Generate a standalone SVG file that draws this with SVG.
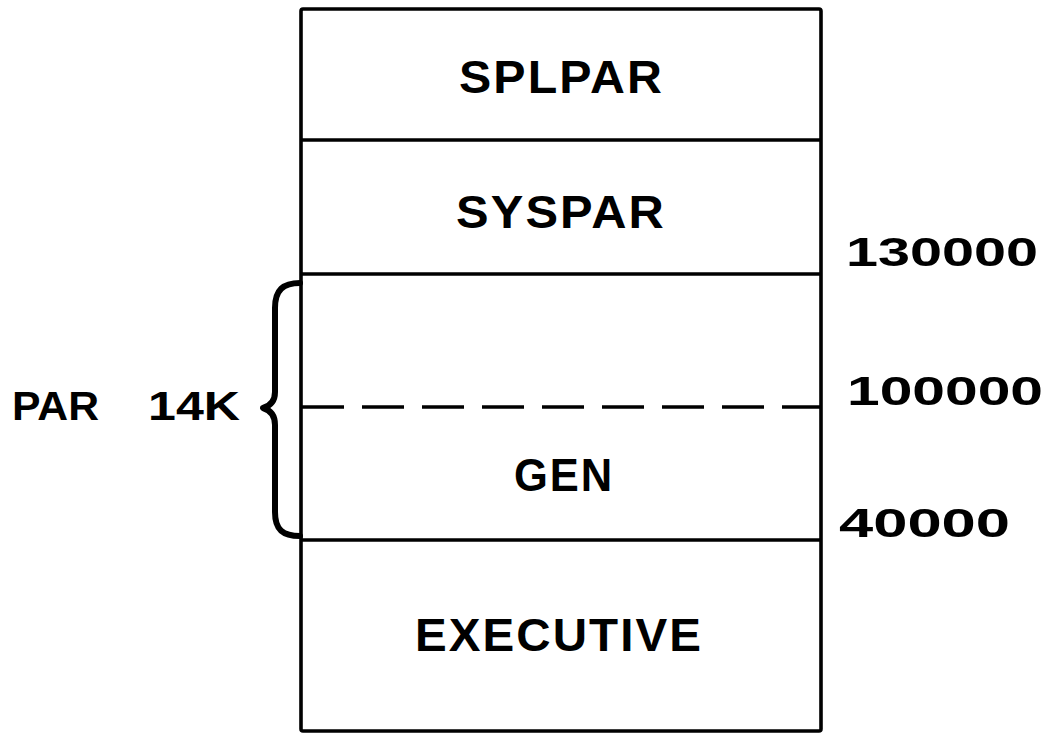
<svg xmlns="http://www.w3.org/2000/svg" width="1052" height="736" viewBox="0 0 1052 736">
  <style>
    .frame { fill: #fff; stroke: #000; stroke-width: 3.6; }
    .rule { stroke: #000; stroke-width: 3.6; fill: none; }
    .lbl { font-family: "Liberation Sans", Arial, sans-serif; font-weight: bold; font-size: 46px; fill: #000; letter-spacing: 2px; }
    .addr { font-family: "Liberation Sans", Arial, sans-serif; font-weight: bold; font-size: 41px; fill: #000; }
    .dash { stroke: #000; stroke-width: 3.4; stroke-dasharray: 42 18; fill: none; }
    .brace { stroke: #000; stroke-width: 6; fill: none; stroke-linecap: round; stroke-linejoin: round; }
  </style>

  <!-- outer frame of the memory map -->
  <rect class="frame" x="301" y="9" width="520" height="722" rx="2"/>

  <!-- memory map blocks, top to bottom -->
  <g id="splpar">
    <text class="lbl" x="459" y="93" textLength="205" lengthAdjust="spacingAndGlyphs">SPLPAR</text>
  </g>
  <g id="syspar">
    <text class="lbl" x="456" y="228" textLength="210" lengthAdjust="spacingAndGlyphs">SYSPAR</text>
  </g>
  <g id="par-upper"/>
  <g id="gen">
    <text class="lbl" x="514" y="491" textLength="100" lengthAdjust="spacingAndGlyphs">GEN</text>
  </g>
  <g id="executive">
    <text class="lbl" x="415" y="651" textLength="288" lengthAdjust="spacingAndGlyphs">EXECUTIVE</text>
  </g>

  <!-- block boundaries and the PAR brace -->
  <g id="connectors">
    <line class="rule" x1="301" y1="140" x2="821" y2="140"/>
    <line class="rule" x1="301" y1="274" x2="821" y2="274"/>
    <line class="dash" x1="302" y1="407" x2="820" y2="407"/>
    <line class="rule" x1="301" y1="540" x2="821" y2="540"/>
    <path class="brace" d="M300,283 C283,283 275,290 275,308 L275,392 C275,401 270,406 263,408 C270,410 275,415 275,425 L275,512 C275,530 283,536 300,536"/>
  </g>

  <!-- address labels -->
  <g id="addresses">
    <text class="addr" x="846" y="266" textLength="192" lengthAdjust="spacingAndGlyphs">130000</text>
    <text class="addr" x="847" y="405" textLength="196" lengthAdjust="spacingAndGlyphs">100000</text>
    <text class="addr" x="839" y="537" textLength="171" lengthAdjust="spacingAndGlyphs">40000</text>
  </g>

  <g id="par-label">
    <text class="addr" y="420" font-size="40"><tspan x="12" textLength="87" lengthAdjust="spacingAndGlyphs">PAR</tspan> <tspan x="148" textLength="92" lengthAdjust="spacingAndGlyphs">14K</tspan></text>
  </g>
</svg>
